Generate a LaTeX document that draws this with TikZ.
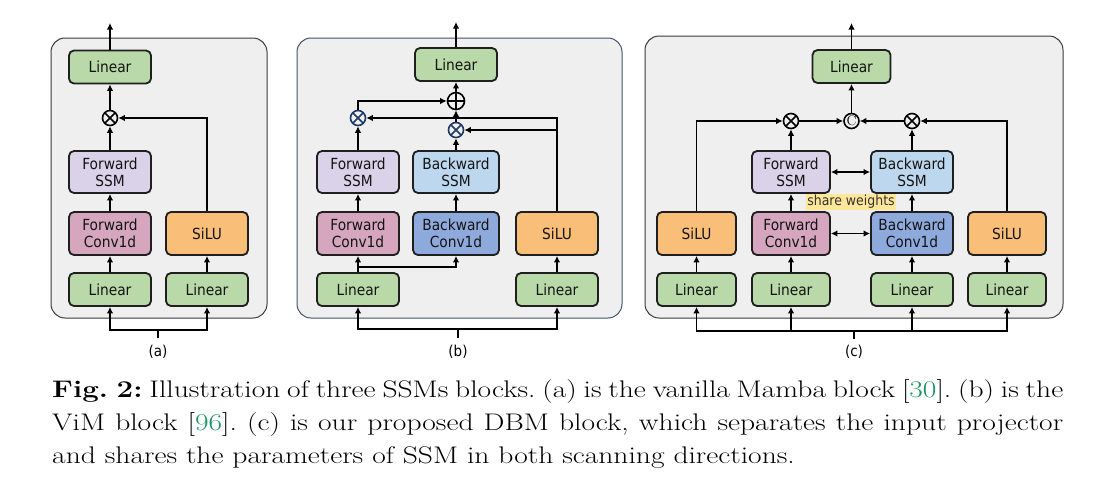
\documentclass[tikz,border=0pt]{standalone}
\usepackage{fontspec}
\usetikzlibrary{arrows.meta,calc}
\newfontfamily\dv[FakeStretch=0.9]{DejaVu Sans}
\definecolor{panelbg}{HTML}{EFEFEF}
\definecolor{panelln}{HTML}{3A3A3A}
\definecolor{panelb}{HTML}{44546A}
\definecolor{lin}{HTML}{B9D9A8}
\definecolor{fssm}{HTML}{D9D2E9}
\definecolor{bssm}{HTML}{BDD7EE}
\definecolor{fconv}{HTML}{D5A6BD}
\definecolor{bconv}{HTML}{8EA9DB}
\definecolor{silu}{HTML}{F9BE78}
\definecolor{hl}{HTML}{FFE699}
\definecolor{navy}{HTML}{1F3864}
\definecolor{citegreen}{HTML}{1E9664}
\tikzset{
  panel/.style={fill=panelbg, draw=panelln, line width=1pt, rounded corners=14pt},
  blk/.style={draw=black!88, line width=1.8pt, rounded corners=5pt, align=center,
    inner sep=0pt, font=\dv\fontsize{15.3}{17}\selectfont, text=black!92, minimum height=43pt},
  linbox/.style={blk, fill=lin, minimum height=33pt},
  arr/.style={line width=1.8pt, -{Latex[length=6.5pt,width=6.5pt]}},
  darr/.style={line width=1.8pt, {Latex[length=6.5pt,width=6.5pt]}-{Latex[length=6.5pt,width=6.5pt]}},
  ln/.style={line width=1.8pt},
  mul/.style={circle, draw=#1, line width=1.6pt, minimum size=15pt, inner sep=0pt,
    path picture={\draw[#1, line width=1.5pt] (path picture bounding box.north west) -- (path picture bounding box.south east)
      (path picture bounding box.north east) -- (path picture bounding box.south west);}},
  mul/.default=black,
  addc/.style={circle, draw=black, line width=1.6pt, minimum size=17pt, inner sep=0pt,
    path picture={\draw[line width=1.5pt] (path picture bounding box.north) -- (path picture bounding box.south)
      (path picture bounding box.east) -- (path picture bounding box.west);}},
  catc/.style={circle, draw=black, line width=1.6pt, minimum size=15pt, inner sep=0pt,
    font=\fontsize{14}{14}\selectfont},
  sublabel/.style={font=\dv\fontsize{15}{17}\selectfont, inner sep=0pt},
}
\begin{document}
\begin{tikzpicture}[x=1pt, y=-1pt]
\useasboundingbox[fill=white] (0,0) rectangle (1095,491);

% ---------------- panel (a)
\draw[panel] (51,38) rectangle (267,318);
\node[linbox, minimum width=82pt] (aout) at (110,67) {Linear};
\node[mul] (amul) at (110,118) {};
\node[blk, fill=fssm, minimum width=82pt, minimum height=42pt] (assm) at (110,172) {Forward\\SSM};
\node[blk, fill=fconv, minimum width=82pt] (aconv) at (110,233.5) {Forward\\Conv1d};
\node[blk, fill=silu, minimum width=82pt] (asilu) at (207,233.5) {SiLU};
\node[linbox, minimum width=82pt] (al1) at (110,289.5) {Linear};
\node[linbox, minimum width=82pt] (al2) at (207,289.5) {Linear};
\coordinate (atop) at (110,23);
\coordinate (ain) at (158,338);
\coordinate (abus) at (158,330);
\draw[arr] (al1) -- (aconv);
\draw[arr] (aconv) -- (assm);
\draw[arr] (assm) -- (amul);
\draw[arr] (amul) -- (aout);
\draw[arr] (aout) -- (atop);
\draw[arr] (al2) -- (asilu);
\draw[arr] (asilu.north) |- (amul.east);
\draw[ln] (ain) -- (abus);
\draw[arr] (abus) -| (al1.south);
\draw[arr] (abus) -| (al2.south);
\node[sublabel] (alab) at (158,352) {(a)};

% ---------------- panel (b)
\draw[panel, draw=panelb] (297,38) rectangle (622,318);
\node[linbox, minimum width=82pt] (bout) at (456,64.5) {Linear};
\node[addc] (badd) at (456,101) {};
\node[mul=navy] (bmulL) at (358,118) {};
\node[mul=navy] (bmulR) at (456,130) {};
\node[blk, fill=fssm, minimum width=82pt, minimum height=42pt] (bfssm) at (358,172) {Forward\\SSM};
\node[blk, fill=bssm, minimum width=86pt, minimum height=42pt] (bbssm) at (456,172) {Backward\\SSM};
\node[blk, fill=fconv, minimum width=82pt] (bfconv) at (358,233.5) {Forward\\Conv1d};
\node[blk, fill=bconv, minimum width=86pt] (bbconv) at (456,233.5) {Backward\\Conv1d};
\node[blk, fill=silu, minimum width=82pt] (bsilu) at (557,233.5) {SiLU};
\node[linbox, minimum width=82pt] (bl1) at (358,289.5) {Linear};
\node[linbox, minimum width=82pt] (bl2) at (557,289.5) {Linear};
\coordinate (btop) at (456,22);
\coordinate (bin) at (458,338);
\coordinate (bbus) at (458,329);
\coordinate (bsplit) at (358,267);
\draw[arr] (bl1) -- (bfconv);
\draw[arr] (bsplit) -| (bbconv.south);
\draw[arr] (bfconv) -- (bfssm);
\draw[arr] (bbconv) -- (bbssm);
\draw[arr] (bfssm) -- (bmulL);
\draw[arr] (bbssm) -- (bmulR);
\draw[arr] (bl2) -- (bsilu);
\draw[arr] (bsilu.north) |- (bmulL.east);
\draw[arr] (bsilu.north |- bmulR) -- (bmulR.east);
\draw[arr] (bmulL.north) |- (badd.west);
\draw[arr] (bmulR) -- (badd);
\draw[arr] (badd) -- (bout);
\draw[arr] (bout) -- (btop);
\draw[ln] (bin) -- (bbus);
\draw[arr] (bbus) -| (bl1.south);
\draw[arr] (bbus) -| (bl2.south);
\node[sublabel] (blab) at (458,352) {(b)};

% ---------------- panel (c)
\draw[panel] (645,36) rectangle (1063,318);
\node[linbox, minimum width=78pt] (cout) at (851.5,66.5) {Linear};
\node[catc] (ccat) at (851.5,121) {C};
\node[mul] (cmulL) at (791,121) {};
\node[mul] (cmulR) at (912,121) {};
\node[blk, fill=fssm, minimum width=78pt, minimum height=42pt] (cfssm) at (791,172) {Forward\\SSM};
\node[blk, fill=bssm, minimum width=82pt, minimum height=42pt] (cbssm) at (912,172) {Backward\\SSM};
\node[blk, fill=fconv, minimum width=78pt] (cfconv) at (791,233.5) {Forward\\Conv1d};
\node[blk, fill=bconv, minimum width=82pt] (cbconv) at (912,233.5) {Backward\\Conv1d};
\node[blk, fill=silu, minimum width=79pt] (csiluL) at (696.5,233.5) {SiLU};
\node[blk, fill=silu, minimum width=78pt] (csiluR) at (1007,233.5) {SiLU};
\node[linbox, minimum width=79pt] (cl1) at (696.5,289.5) {Linear};
\node[linbox, minimum width=78pt] (cl2) at (791,289.5) {Linear};
\node[linbox, minimum width=82pt] (cl3) at (912,289.5) {Linear};
\node[linbox, minimum width=78pt] (cl4) at (1007,289.5) {Linear};
\node[fill=hl, inner sep=1pt, font=\dv\fontsize{13.9}{15}\selectfont, text=black!80] (cshare) at (851,202) {share weights};
\coordinate (ctop) at (851.5,23);
\coordinate (cin) at (854,339);
\coordinate (cbus) at (854,331);
\draw[arr] (cl1) -- (csiluL);
\draw[arr] (cl2) -- (cfconv);
\draw[arr] (cl3) -- (cbconv);
\draw[arr] (cl4) -- (csiluR);
\draw[arr] (cfconv) -- (cfssm);
\draw[arr] (cbconv) -- (cbssm);
\draw[darr] (cfssm) -- (cbssm);
\draw[darr] (cfconv) -- (cbconv);
\draw[arr] (cfssm) -- (cmulL);
\draw[arr] (cbssm) -- (cmulR);
\draw[arr] (csiluL.north) |- (cmulL.west);
\draw[arr] (csiluR.north) |- (cmulR.east);
\draw[arr] (cmulL) -- (ccat);
\draw[arr] (cmulR) -- (ccat);
\draw[arr] (ccat) -- (cout);
\draw[arr] (cout) -- (ctop);
\draw[ln] (cin) -- (cbus);
\draw[arr] (cbus) -| (cl1.south);
\draw[arr] (cbus) -| (cl2.south);
\draw[arr] (cbus) -| (cl3.south);
\draw[arr] (cbus) -| (cl4.south);
\node[sublabel] (clab) at (854,352) {(c)};

% ---------------- caption
\node[anchor=base west, inner sep=0pt] (caption) at (52,397) {\scalebox{1.23}[1]{\parbox[t]{822pt}{\fontsize{24}{33}\selectfont\frenchspacing
\textbf{Fig.~2:} Illustration of three SSMs blocks. (a) is the vanilla Mamba block [{\color{citegreen}30}]. (b) is the\linebreak
ViM block [{\color{citegreen}96}]. (c) is our proposed DBM block, which separates the input projector\linebreak
and shares the parameters of SSM in both scanning directions.}}};
\end{tikzpicture}
\end{document}
